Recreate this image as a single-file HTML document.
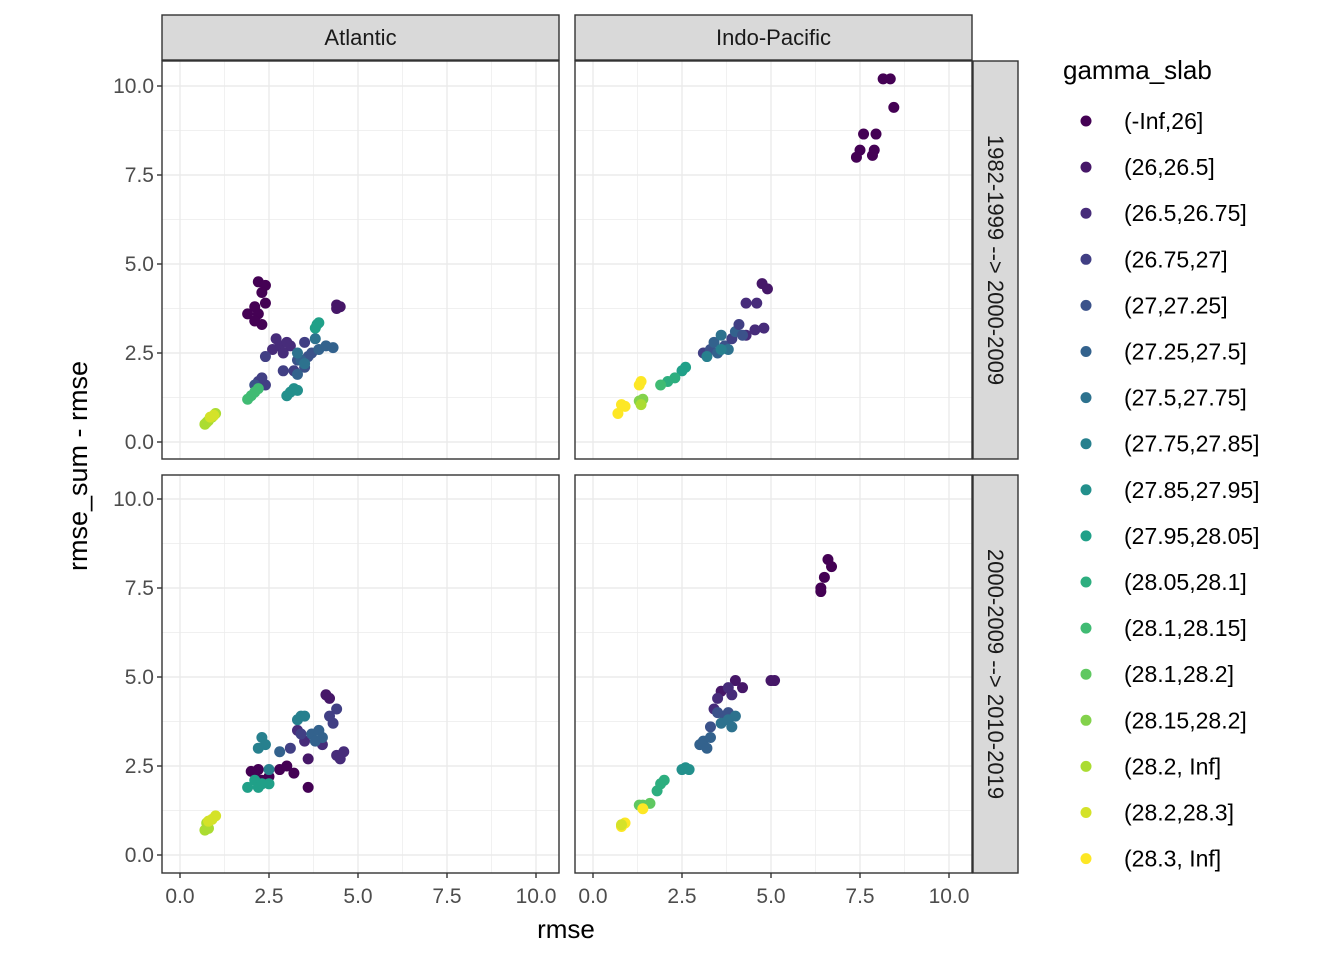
<!DOCTYPE html>
<html><head><meta charset="utf-8"><style>
body{margin:0;background:#fff;font-family:"Liberation Sans",sans-serif}
svg text{font-family:"Liberation Sans",sans-serif}
</style></head><body>
<svg id="chart" width="1344" height="960" xmlns="http://www.w3.org/2000/svg"></svg>
<script>
const legendLabels=["(-Inf,26]","(26,26.5]","(26.5,26.75]","(26.75,27]","(27,27.25]","(27.25,27.5]","(27.5,27.75]","(27.75,27.85]","(27.85,27.95]","(27.95,28.05]","(28.05,28.1]","(28.1,28.15]","(28.1,28.2]","(28.15,28.2]","(28.2, Inf]","(28.2,28.3]","(28.3, Inf]"];
const xTicks=[0,2.5,5,7.5,10];
const yTicks=[0,2.5,5,7.5,10];
const colLabels=["Atlantic","Indo-Pacific"];
const rowLabels=["1982-1999 --> 2000-2009","2000-2009 --> 2010-2019"];
const tlX=[2.2,2.4,2.3,2.4,2.1,2.2,1.9,2.3,2.1,4.4,4.5,4.4,2.7,2.8,2.6,3.0,3.1,2.9,2.4,3.5,2.2,2.3,2.4,3.2,2.9,3.3,3.5,3.6,2.1,3.7,3.9,4.1,4.3,3.4,3.3,3.8,3.3,3.5,3.1,3.2,3.0,3.3,3.8,3.9,3.85,1.9,2.0,2.1,2.2,0.7,0.8,0.9,1.0,0.75,0.95,0.85];
const tlY=[4.5,4.4,4.2,3.9,3.8,3.6,3.6,3.3,3.4,3.85,3.8,3.75,2.9,2.7,2.6,2.8,2.7,2.5,2.4,2.8,1.7,1.8,1.6,2.0,2.0,2.3,2.1,2.4,1.6,2.5,2.6,2.7,2.65,2.3,1.9,2.9,2.5,2.2,1.4,1.5,1.3,1.45,3.2,3.35,3.3,1.2,1.3,1.4,1.5,0.5,0.6,0.7,0.8,0.55,0.75,0.7];
const tlG=[0,0,0,0,0,0,0,0,0,1,1,1,2,2,2,2,2,2,3,3,3,3,3,3,3,4,4,4,4,4,5,5,5,5,5,6,6,6,8,8,8,8,9,9,9,11,11,11,11,14,14,14,14,14,15,15];
const trX=[8.15,8.35,8.45,7.6,7.95,7.5,7.9,7.4,7.85,4.75,4.9,4.3,4.6,4.8,4.3,4.55,3.1,3.3,3.4,3.5,3.6,3.7,3.8,3.9,4.0,4.1,3.2,3.6,4.2,2.5,2.6,2.3,2.1,1.9,1.3,1.4,1.35,0.7,0.8,0.9,1.3,1.35];
const trY=[10.2,10.2,9.4,8.65,8.65,8.2,8.2,8.0,8.05,4.45,4.3,3.9,3.9,3.2,3.0,3.15,2.5,2.6,2.8,2.5,3.0,2.7,2.6,2.9,3.1,3.3,2.4,2.6,3.0,2.0,2.1,1.8,1.7,1.6,1.15,1.2,1.05,0.8,1.05,1.0,1.6,1.7];
const trG=[0,0,0,0,0,0,0,0,0,1,1,2,2,2,2,2,3,4,5,5,6,4,6,3,5,3,7,7,4,9,9,10,10,11,13,13,14,16,16,16,16,16];
const blX=[2.1,2.2,2.3,2.0,2.5,3.2,3.6,2.8,3.0,4.1,4.2,3.6,4.4,4.6,4.5,3.5,3.3,4.0,4.3,4.4,4.2,3.1,3.4,3.7,3.8,3.9,4.0,2.8,3.3,3.4,3.5,2.3,2.4,2.2,2.5,2.1,2.2,2.5,1.9,2.3,0.7,0.8,0.75,0.9,1.0,0.8];
const blY=[2.3,2.4,2.1,2.35,2.2,2.3,1.9,2.4,2.5,4.5,4.4,2.7,2.8,2.9,2.7,3.2,3.5,3.1,3.7,4.1,3.9,3.0,3.4,3.4,3.2,3.5,3.3,2.9,3.8,3.9,3.9,3.3,3.1,3.0,2.4,2.1,1.9,2.0,1.9,2.0,0.7,0.75,0.9,1.0,1.1,0.95];
const blG=[0,0,0,0,0,0,0,0,0,1,1,1,2,2,2,2,2,2,3,3,3,3,3,5,5,5,5,5,7,7,7,7,7,7,7,9,9,9,9,9,14,14,14,15,15,15];
const brX=[6.6,6.7,6.5,6.4,6.4,4.0,4.2,5.0,5.1,3.6,3.5,3.8,3.4,3.9,3.5,3.7,3.3,3.8,3.0,3.1,3.3,3.2,3.6,3.8,3.9,4.0,2.5,2.6,2.7,1.8,2.0,1.9,1.4,1.6,1.3,0.8,0.9,1.4,0.8];
const brY=[8.3,8.1,7.8,7.5,7.4,4.9,4.7,4.9,4.9,4.6,4.4,4.7,4.1,4.5,4.0,3.9,3.6,4.0,3.1,3.2,3.3,3.0,3.7,3.8,3.6,3.9,2.4,2.45,2.4,1.8,2.1,2.0,1.4,1.45,1.4,0.8,0.9,1.3,0.85];
const brG=[0,0,0,0,0,1,1,1,1,1,2,2,2,2,4,4,4,4,5,5,5,5,6,6,6,6,8,8,8,10,10,10,12,12,12,16,16,16,15];

const stops=[[68,1,84],[72,40,120],[62,74,137],[49,104,142],[38,130,142],[31,158,137],[53,183,121],[109,205,89],[180,222,44],[253,231,37]];
function viridis(t){const p=t*(stops.length-1),i=Math.min(Math.floor(p),stops.length-2),f=p-i;const c=stops[i].map((v,k)=>Math.round(v+(stops[i+1][k]-v)*f));return `rgb(${c})`;}
const NS="http://www.w3.org/2000/svg",svg=document.getElementById("chart");
function el(tag,attrs,parent){const e=document.createElementNS(NS,tag);for(const k in attrs)e.setAttribute(k,attrs[k]);(parent||svg).appendChild(e);return e;}
const colX0=[162,575],rowY0=[61,475],PW=397,PH=398;
const zeroX=[180,593],zeroY=[442,855],scale=35.6;
const panels=[[tlX,tlY,tlG,0,0,"atlantic-1982"],[trX,trY,trG,1,0,"indo-pacific-1982"],[blX,blY,blG,0,1,"atlantic-2000"],[brX,brY,brG,1,1,"indo-pacific-2000"]];
panels.forEach(([xs,ys,gs,c,r,nm])=>{
  const g=el("g",{});
  
  
  const sx=v=>zeroX[c]+v*scale, sy=v=>zeroY[r]-v*scale;
  el("rect",{x:colX0[c],y:rowY0[r],width:PW,height:PH,fill:"#fff"},g);
  for(let v=-1.25;v<=11;v+=1.25){const isMaj=Math.abs(v/2.5-Math.round(v/2.5))<1e-6;
    const X=sx(v);if(X>colX0[c]&&X<colX0[c]+PW)el("line",{x1:X,x2:X,y1:rowY0[r],y2:rowY0[r]+PH,stroke:"#ebebeb","stroke-width":isMaj?1.4:0.7},g);
    const Y=sy(v);if(Y>rowY0[r]&&Y<rowY0[r]+PH)el("line",{x1:colX0[c],x2:colX0[c]+PW,y1:Y,y2:Y,stroke:"#ebebeb","stroke-width":isMaj?1.4:0.7},g);}
  xs.forEach((x,i)=>{const p=el("circle",{cx:sx(x),cy:sy(ys[i]),r:5.5,fill:viridis(gs[i]/16)},g);
    
    });
  el("rect",{x:colX0[c],y:rowY0[r],width:PW,height:PH,fill:"none",stroke:"#333","stroke-width":1.4},g);
  if(c===0){yTicks.forEach(v=>{el("line",{x1:colX0[c]-5,x2:colX0[c],y1:sy(v),y2:sy(v),stroke:"#333","stroke-width":1.4});
    const t=el("text",{x:colX0[c]-8,y:sy(v)+7,"text-anchor":"end","font-size":21,fill:"#4d4d4d"});t.textContent=v.toFixed(1);
    
    });}
  if(r===1){xTicks.forEach(v=>{el("line",{x1:sx(v),x2:sx(v),y1:rowY0[r]+PH,y2:rowY0[r]+PH+5,stroke:"#333","stroke-width":1.4});
    const t=el("text",{x:sx(v),y:rowY0[r]+PH+30,"text-anchor":"middle","font-size":21,fill:"#4d4d4d"});t.textContent=v.toFixed(1);
    
    });}
});
colLabels.forEach((s,c)=>{const g=el("g",{});
  
  
  el("rect",{x:colX0[c],y:15,width:PW,height:45,fill:"#d9d9d9",stroke:"#333","stroke-width":1.4},g);
  const t=el("text",{x:colX0[c]+PW/2,y:45,"text-anchor":"middle","font-size":22,fill:"#1a1a1a"},g);t.textContent=s;});
rowLabels.forEach((s,r)=>{const g=el("g",{});
  
  
  el("rect",{x:973,y:rowY0[r],width:45,height:PH,fill:"#d9d9d9",stroke:"#333","stroke-width":1.4},g);
  const t=el("text",{x:0,y:0,"text-anchor":"middle","font-size":22,fill:"#1a1a1a",transform:`translate(988,${rowY0[r]+PH/2}) rotate(90)`},g);t.textContent=s;});
let t=el("text",{x:566,y:938,"text-anchor":"middle","font-size":26,fill:"#000"});t.textContent="rmse";

t=el("text",{x:0,y:0,"text-anchor":"middle","font-size":27,fill:"#000",transform:"translate(87,466) rotate(-90)"});t.textContent="rmse_sum - rmse";

t=el("text",{x:1063,y:79,"font-size":26,fill:"#000"});t.textContent="gamma_slab";

legendLabels.forEach((s,i)=>{const g=el("g",{});
  
  
  const y=121+i*46.1;
  el("circle",{cx:1086,cy:y,r:5.5,fill:viridis(i/16)},g);
  const tt=el("text",{x:1124,y:y+8,"font-size":23,fill:"#000"},g);tt.textContent=s;});
</script>
</body></html>
